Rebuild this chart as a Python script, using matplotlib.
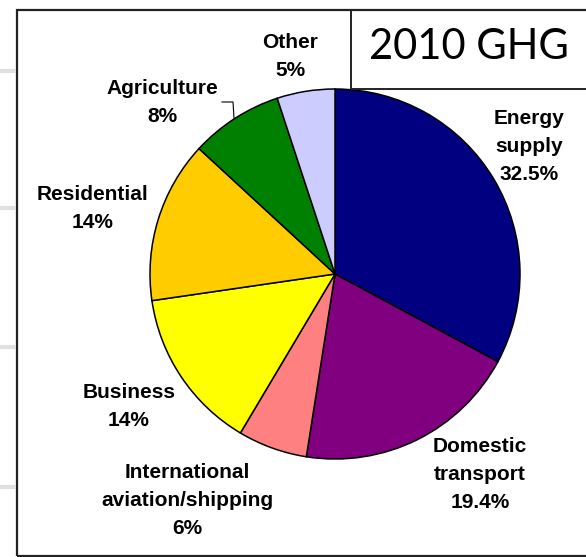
import matplotlib.pyplot as plt
from matplotlib.patches import Rectangle

# pixel canvas of the original slide crop
W, H = 586, 557

sectors = ['Energy supply', 'Domestic transport', 'International aviation/shipping',
           'Business', 'Residential', 'Agriculture', 'Other']
shares = [32.5, 19.4, 6, 14, 14, 8, 5]
colors = ['#000080', '#800080', '#ff8080', '#ffff00', '#ffcc00', '#008000', '#ccccff']
labels = ['Energy\nsupply\n32.5%', 'Domestic\ntransport\n19.4%',
          'International\naviation/shipping\n6%', 'Business\n14%',
          'Residential\n14%', 'Agriculture\n8%', 'Other\n5%']
# label centres in pixels (x, y from top)
label_pos = [(529, 147), (480, 475), (187, 501), (129, 406),
             (93, 209), (162, 102), (290, 57)]

fig = plt.figure(figsize=(W / 100, H / 100), dpi=100)
ax = fig.add_axes([0, 0, 1, 1])

ax.pie(shares, colors=colors, startangle=90, counterclock=False,
       radius=185, center=(335, H - 274),
       wedgeprops=dict(edgecolor='black', linewidth=1.1))

for txt, (x, y) in zip(labels, label_pos):
    ax.text(x, H - y, txt, ha='center', va='center', fontsize=15,
            fontweight='bold', family='Liberation Sans', linespacing=1.6)

# leader line for Agriculture
ax.plot([222, 233, 234], [H - 102, H - 102, H - 118], color='black', lw=0.8)

# slide frame and title box
ax.add_patch(Rectangle((17, H - 556), 600, 546, fill=False, edgecolor='#222222', lw=1.6))
ax.add_patch(Rectangle((351, H - 89), 300, 79, fill=False, edgecolor='#222222', lw=1.4))
ax.text(469, H - 47, '2010 GHG', ha='center', va='center', fontsize=30, family='Lato')

# faint background rules left of the frame
for y in [71, 208, 347, 487]:
    ax.plot([0, 16], [H - y, H - y], color='#e0e0e0', lw=3, solid_capstyle='butt')

ax.set_xlim(0, W)
ax.set_ylim(0, H)
ax.set_aspect('equal')
ax.axis('off')

fig.savefig('out.png', dpi=100)
